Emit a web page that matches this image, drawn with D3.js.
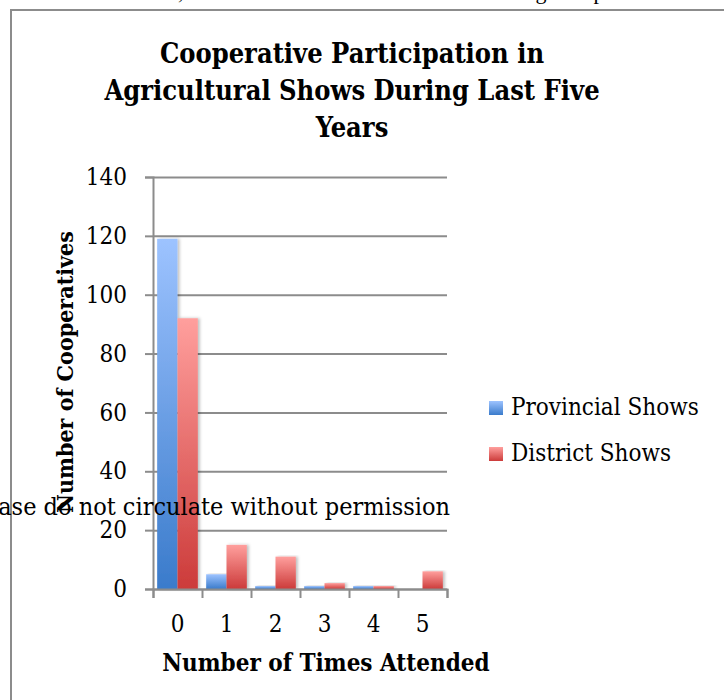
<!DOCTYPE html>
<html>
<head>
<meta charset="utf-8">
<script src="https://cdn.jsdelivr.net/npm/d3@7"></script>
<style>
  body { margin: 0; background: #fff; }
  svg { display: block; }
</style>
</head>
<body>
<div id="chart"></div>
<script>
/* Data */
const categories = ["0", "1", "2", "3", "4", "5"]
const seriesNames = ["Provincial Shows", "District Shows"]
const provincialShows = [119, 5, 1, 1, 1, 0]
const districtShows = [92, 15, 11, 2, 1, 6]
const yTicks = [0, 20, 40, 60, 80, 100, 120, 140]

const data = categories.map((c, i) => ({
  category: c,
  values: [
    { key: seriesNames[0], value: provincialShows[i] },
    { key: seriesNames[1], value: districtShows[i] }
  ]
}))

/* Dimensions */
const dimensions = {
  width: 724,
  height: 700,
  margin: { top: 177, right: 277, bottom: 111, left: 153 }
}
dimensions.boundedWidth = dimensions.width - dimensions.margin.left - dimensions.margin.right
dimensions.boundedHeight = dimensions.height - dimensions.margin.top - dimensions.margin.bottom

const serif = "'DejaVu Serif Condensed', 'DejaVu Serif', serif"
const axisColor = "#8c8c8c"

const svg = d3.select("#chart").append("svg")
    .attr("width", dimensions.width)
    .attr("height", dimensions.height)

const defs = svg.append("defs")
const gradients = [
  { id: "grad-blue", top: "#9dc3ff", bottom: "#3a7bcb" },
  { id: "grad-red", top: "#ff9f9d", bottom: "#cc3b3a" }
]
gradients.forEach(g => {
  const lg = defs.append("linearGradient")
      .attr("id", g.id)
      .attr("x1", 0).attr("y1", 0).attr("x2", 0).attr("y2", 1)
  lg.append("stop").attr("offset", "0%").attr("stop-color", g.top)
  lg.append("stop").attr("offset", "100%").attr("stop-color", g.bottom)
})
defs.append("filter").attr("id", "shadow")
    .attr("x", "-20%").attr("y", "-5%").attr("width", "160%").attr("height", "110%")
  .append("feDropShadow")
    .attr("dx", 2).attr("dy", 0).attr("stdDeviation", 1.5)
    .attr("flood-color", "#000").attr("flood-opacity", 0.25)

/* Line of body text cut off at the top of the page */
svg.append("text")
    .attr("x", 40)
    .attr("y", -1.5)
    .attr("font-family", "'Liberation Serif', serif")
    .attr("font-size", 22)
    .attr("fill", "#000")
    .text("from the results, the mean number of shows of the average cooperative was low, and were")

/* Chart frame */
svg.append("rect")
    .attr("x", 11)
    .attr("y", 10)
    .attr("width", 800)
    .attr("height", 800)
    .attr("fill", "none")
    .attr("stroke", axisColor)
    .attr("stroke-width", 2)

/* Title */
const titleLines = ["Cooperative Participation in", "Agricultural Shows During Last Five", "Years"]
svg.append("text")
    .attr("x", 352)
    .attr("y", 63)
    .attr("text-anchor", "middle")
    .attr("font-family", serif)
    .attr("font-weight", "bold")
    .attr("font-size", 27)
  .selectAll("tspan")
  .data(titleLines)
  .join("tspan")
    .attr("x", 352)
    .attr("dy", (d, i) => i === 0 ? 0 : 37)
    .text(d => d)

const bounds = svg.append("g")
    .attr("transform", `translate(${dimensions.margin.left},${dimensions.margin.top})`)

/* Scales */
const xScale = d3.scaleBand()
    .domain(categories)
    .range([0, dimensions.boundedWidth])
    .paddingInner(0)
    .paddingOuter(0)

const innerScale = d3.scaleBand()
    .domain(seriesNames)
    .range([0, xScale.bandwidth()])
    .paddingInner(0)
    .paddingOuter(0.205)

const yScale = d3.scaleLinear()
    .domain([0, 140])
    .range([dimensions.boundedHeight, 0])

const colorScale = d3.scaleOrdinal()
    .domain(seriesNames)
    .range(["url(#grad-blue)", "url(#grad-red)"])

/* Gridlines */
const grid = bounds.append("g")
    .call(d3.axisLeft(yScale).tickValues(yTicks).tickSize(-dimensions.boundedWidth).tickFormat(""))
grid.select(".domain").remove()
grid.selectAll("line").attr("stroke", axisColor).attr("stroke-width", 2)

/* Bars */
const groups = bounds.append("g")
  .selectAll("g")
  .data(data)
  .join("g")
    .attr("transform", d => `translate(${xScale(d.category)},0)`)

groups.selectAll("rect")
  .data(d => d.values)
  .join("rect")
    .attr("x", d => innerScale(d.key))
    .attr("y", d => yScale(d.value))
    .attr("width", innerScale.bandwidth())
    .attr("height", d => dimensions.boundedHeight - yScale(d.value))
    .attr("fill", d => colorScale(d.key))
    .attr("filter", "url(#shadow)")

/* Y axis */
const yAxis = bounds.append("g")
    .call(d3.axisLeft(yScale).tickValues(yTicks).tickSize(8).tickPadding(18))
yAxis.select(".domain").attr("stroke", axisColor).attr("stroke-width", 2)
yAxis.selectAll("line").attr("stroke", axisColor).attr("stroke-width", 2)
yAxis.selectAll("text")
    .attr("font-family", serif)
    .attr("font-size", 24)
    .attr("fill", "#000")

/* X axis: ticks between categories */
const edgeScale = d3.scaleLinear()
    .domain([0, categories.length])
    .range([0, dimensions.boundedWidth])
const xEdges = bounds.append("g")
    .attr("transform", `translate(0,${dimensions.boundedHeight})`)
    .call(d3.axisBottom(edgeScale).tickValues(d3.range(categories.length + 1)).tickSize(9).tickFormat(""))
xEdges.select(".domain").attr("stroke", axisColor).attr("stroke-width", 2)
xEdges.selectAll("line").attr("stroke", axisColor).attr("stroke-width", 2)

const xLabels = bounds.append("g")
    .attr("transform", `translate(0,${dimensions.boundedHeight})`)
    .call(d3.axisBottom(xScale).tickSize(0))
xLabels.select(".domain").remove()
xLabels.selectAll("text")
    .attr("y", 43)
    .attr("dy", null)
    .attr("font-family", serif)
    .attr("font-size", 24)
    .attr("fill", "#000")

/* Axis titles */
svg.append("text")
    .attr("x", 326)
    .attr("y", 671)
    .attr("text-anchor", "middle")
    .attr("font-family", serif)
    .attr("font-weight", "bold")
    .attr("font-size", 24)
    .text("Number of Times Attended")

svg.append("text")
    .attr("transform", "translate(73,372) rotate(-90)")
    .attr("text-anchor", "middle")
    .attr("font-family", serif)
    .attr("font-weight", "bold")
    .attr("font-size", 23)
    .text("Number of Cooperatives")

/* Legend */
const legend = svg.append("g")
    .attr("transform", "translate(489,401)")
const legendItems = legend.selectAll("g")
  .data(seriesNames)
  .join("g")
    .attr("transform", (d, i) => `translate(0,${i * 46})`)
legendItems.append("rect")
    .attr("width", 14)
    .attr("height", 14)
    .attr("fill", d => colorScale(d))
legendItems.append("text")
    .attr("x", 22)
    .attr("y", 14)
    .attr("font-family", serif)
    .attr("font-size", 24)
    .text(d => d)

/* Watermark */
svg.append("text")
    .attr("x", 450)
    .attr("y", 515)
    .attr("text-anchor", "end")
    .attr("font-family", serif)
    .attr("font-size", 25)
    .attr("fill", "#000")
    .text("Please do not circulate without permission")
</script>
</body>
</html>
